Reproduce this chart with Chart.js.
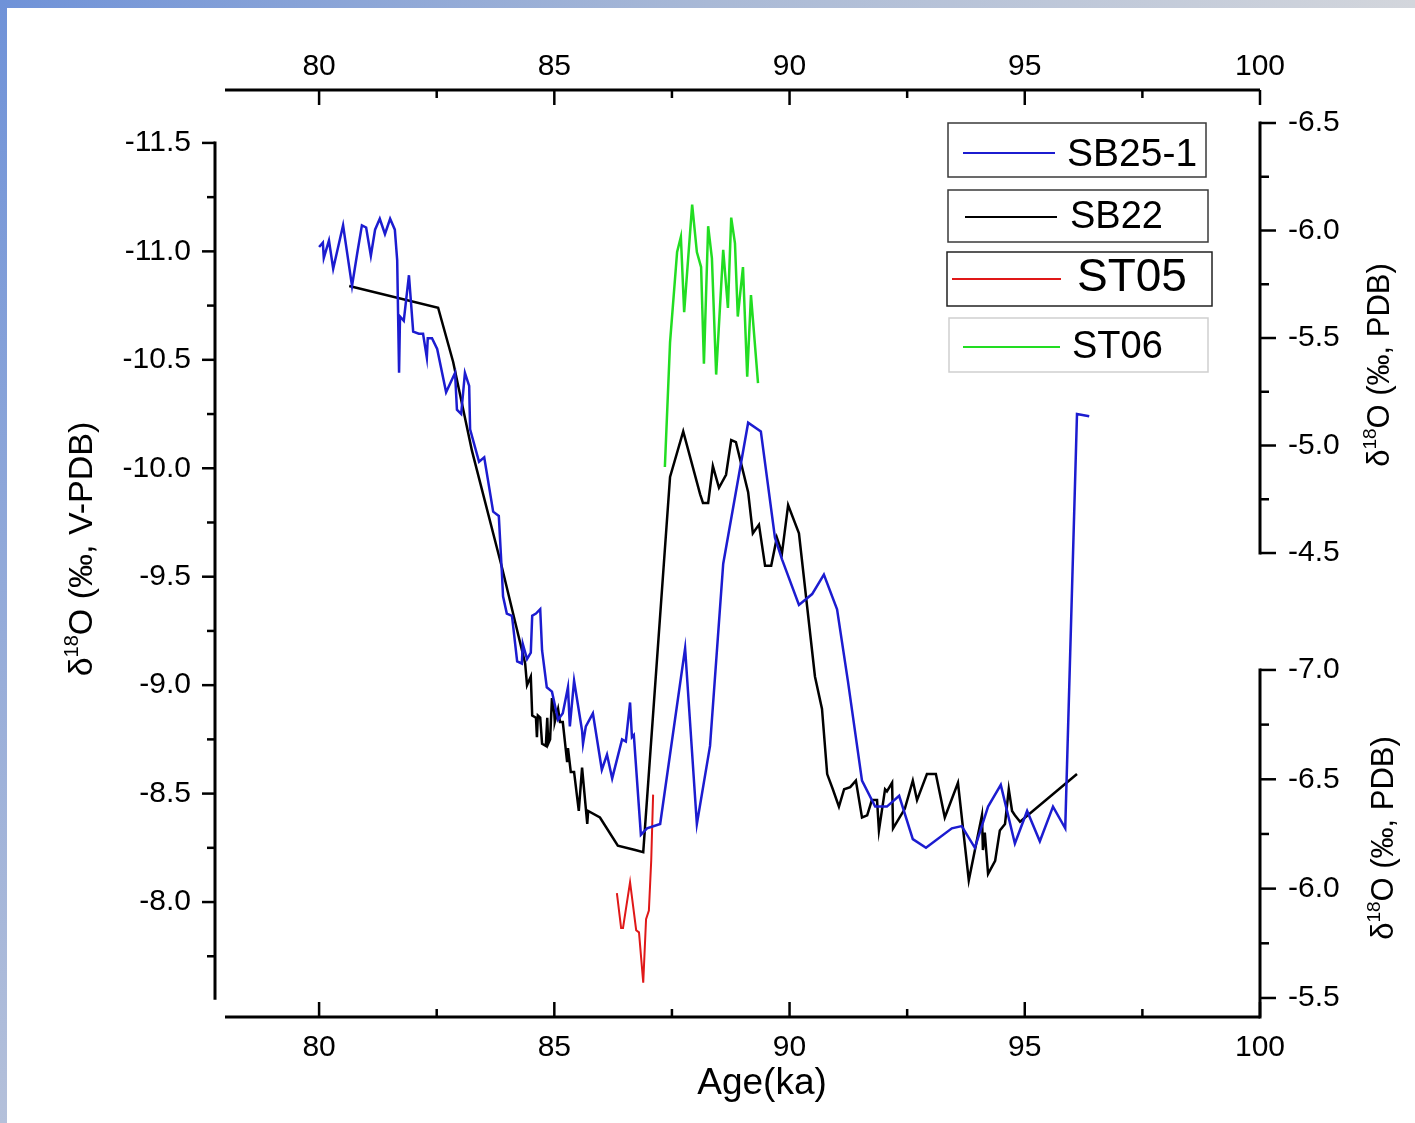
<!DOCTYPE html>
<html><head><meta charset="utf-8">
<script src="https://cdn.jsdelivr.net/npm/chart.js@4.4.1/dist/chart.umd.min.js"></script>
<style>html,body{margin:0;padding:0;background:#fff;} canvas{display:block;}</style>
</head><body>
<canvas id="c" width="1415" height="1123"></canvas>
<script>
// ---------------- DATA ----------------
const seriesNames = ['SB25-1', 'SB22', 'ST05', 'ST06'];

const sb25Age = [80.00,80.08,80.10,80.21,80.30,80.51,80.70,80.81,80.91,81.00,81.10,81.19,81.29,81.40,81.51,81.61,81.66,81.70,81.72,81.80,81.91,82.00,82.12,82.21,82.29,82.31,82.40,82.51,82.70,82.89,82.93,83.02,83.10,83.19,83.21,83.40,83.51,83.70,83.82,83.89,83.91,83.99,84.10,84.21,84.31,84.33,84.42,84.50,84.53,84.61,84.70,84.74,84.84,84.95,85.08,85.18,85.29,85.33,85.42,85.59,85.61,85.67,85.82,86.01,86.12,86.23,86.44,86.52,86.61,86.65,86.69,86.84,86.97,87.25,87.78,88.03,88.31,88.59,89.12,89.39,89.69,89.84,90.20,90.48,90.73,91.01,91.24,91.54,91.82,92.07,92.33,92.62,92.90,93.45,93.66,93.94,94.22,94.49,94.79,95.05,95.32,95.60,95.86,96.11,96.37];
const sb25Val = [-11.02,-11.04,-10.97,-11.05,-10.92,-11.12,-10.84,-10.99,-11.12,-11.11,-10.98,-11.10,-11.15,-11.08,-11.15,-11.10,-10.96,-10.44,-10.70,-10.68,-10.89,-10.63,-10.62,-10.62,-10.51,-10.60,-10.60,-10.55,-10.35,-10.44,-10.27,-10.25,-10.44,-10.38,-10.18,-10.03,-10.05,-9.80,-9.78,-9.50,-9.41,-9.33,-9.32,-9.11,-9.10,-9.19,-9.12,-9.15,-9.32,-9.33,-9.35,-9.16,-8.99,-8.97,-8.84,-8.87,-8.99,-8.81,-9.02,-8.79,-8.73,-8.81,-8.87,-8.61,-8.68,-8.57,-8.75,-8.74,-8.92,-8.76,-8.77,-8.31,-8.34,-8.36,-9.17,-8.36,-8.72,-9.56,-10.21,-10.17,-9.68,-9.58,-9.37,-9.42,-9.51,-9.35,-9.02,-8.56,-8.44,-8.44,-8.49,-8.29,-8.25,-8.34,-8.35,-8.25,-8.44,-8.54,-8.27,-8.42,-8.28,-8.44,-8.34,-10.25,-10.24];

const sb22Age = [80.64,82.53,82.85,83.25,83.89,84.38,84.42,84.50,84.53,84.61,84.63,84.65,84.70,84.74,84.82,84.85,84.87,84.91,84.95,85.00,85.01,85.08,85.12,85.18,85.27,85.29,85.35,85.42,85.52,85.59,85.70,85.72,85.97,86.35,86.72,86.89,87.46,87.74,88.10,88.16,88.27,88.37,88.50,88.65,88.76,88.86,89.12,89.22,89.35,89.48,89.61,89.73,89.84,89.97,90.20,90.54,90.69,90.80,90.92,91.05,91.16,91.29,91.41,91.54,91.65,91.75,91.86,91.90,92.03,92.07,92.18,92.20,92.45,92.62,92.71,92.92,93.11,93.30,93.58,93.81,94.09,94.11,94.15,94.22,94.37,94.47,94.58,94.66,94.73,94.79,94.90,96.11];
const sb22Val = [-10.84,-10.74,-10.49,-10.08,-9.54,-9.10,-9.00,-9.04,-8.86,-8.85,-8.76,-8.86,-8.85,-8.73,-8.72,-8.85,-8.73,-8.75,-8.94,-8.87,-8.83,-8.89,-8.83,-8.83,-8.65,-8.71,-8.60,-8.60,-8.42,-8.62,-8.36,-8.42,-8.39,-8.26,-8.24,-8.23,-9.96,-10.17,-9.88,-9.84,-9.84,-10.01,-9.91,-9.97,-10.13,-10.12,-9.89,-9.70,-9.74,-9.55,-9.55,-9.68,-9.61,-9.83,-9.70,-9.04,-8.89,-8.59,-8.52,-8.44,-8.52,-8.53,-8.56,-8.39,-8.40,-8.47,-8.47,-8.33,-8.52,-8.51,-8.55,-8.34,-8.43,-8.56,-8.47,-8.59,-8.59,-8.39,-8.55,-8.10,-8.40,-8.24,-8.32,-8.13,-8.19,-8.33,-8.36,-8.52,-8.42,-8.40,-8.37,-8.59];

const st05Age = [86.33,86.42,86.46,86.61,86.74,86.80,86.89,86.95,87.01,87.06,87.10];
const st05Val = [-5.98,-5.82,-5.82,-6.03,-5.81,-5.80,-5.57,-5.86,-5.90,-6.13,-6.43];

const st06Age = [87.35,87.46,87.61,87.69,87.76,87.93,88.03,88.12,88.18,88.27,88.35,88.44,88.59,88.69,88.76,88.84,88.90,89.01,89.10,89.18,89.33];
const st06Val = [-4.90,-5.48,-5.90,-5.97,-5.62,-6.12,-5.90,-5.83,-5.38,-6.02,-5.87,-5.33,-5.91,-5.64,-6.06,-5.94,-5.60,-5.83,-5.32,-5.70,-5.29];

// tick labels
const xTicks = [80, 85, 90, 95, 100];
const leftTicks = [-11.5, -11.0, -10.5, -10.0, -9.5, -9.0, -8.5, -8.0];
const upperRightTicks = [-6.5, -6.0, -5.5, -5.0, -4.5];
const lowerRightTicks = [-7.0, -6.5, -6.0, -5.5];
const xTitle = 'Age(ka)';
const leftTitle = ['δ', '18', 'O (‰, V-PDB)'];
const rightTitle = ['δ', '18', 'O (‰, PDB)'];

function zip(a, b) { return a.map((v, i) => ({ x: v, y: b[i] })); }

const FONT = '"Liberation Sans", Arial, sans-serif';

// ---------------- PLUGINS ----------------
const background = {
  id: 'background',
  beforeDraw(chart) {
    const ctx = chart.ctx, W = chart.width, H = chart.height;
    ctx.save();
    ctx.fillStyle = '#ffffff';
    ctx.fillRect(0, 0, W, H);
    let g = ctx.createLinearGradient(0, 0, W, 0);
    g.addColorStop(0, '#6f92d8');
    g.addColorStop(0.5, '#a9b9d6');
    g.addColorStop(1, '#d3d6dc');
    ctx.fillStyle = g;
    ctx.fillRect(0, 0, W, 8);
    g = ctx.createLinearGradient(0, 0, 0, H);
    g.addColorStop(0, '#6f92d8');
    g.addColorStop(1, '#b4c0da');
    ctx.fillStyle = g;
    ctx.fillRect(0, 0, 7, H);
    ctx.restore();
  }
};

function seg(ctx, x1, y1, x2, y2) { ctx.beginPath(); ctx.moveTo(x1, y1); ctx.lineTo(x2, y2); ctx.stroke(); }

function drawTitle(ctx, parts, cx, cy, size) {
  ctx.save();
  ctx.translate(cx, cy);
  ctx.rotate(-Math.PI / 2);
  const big = size + 'px ' + FONT, small = Math.round(size * 0.6) + 'px ' + FONT;
  ctx.font = big; const w0 = ctx.measureText(parts[0]).width;
  ctx.font = small; const w1 = ctx.measureText(parts[1]).width;
  ctx.font = big; const w2 = ctx.measureText(parts[2]).width;
  let x = -(w0 + w1 + w2) / 2;
  ctx.textBaseline = 'alphabetic'; ctx.textAlign = 'left'; ctx.fillStyle = '#000';
  const base = size * 0.36;
  ctx.font = big; ctx.fillText(parts[0], x, base); x += w0;
  ctx.font = small; ctx.fillText(parts[1], x, base - size * 0.42); x += w1;
  ctx.font = big; ctx.fillText(parts[2], x, base);
  ctx.restore();
}

const axes = {
  id: 'axes',
  afterDatasetsDraw(chart) {
    const ctx = chart.ctx, a = chart.chartArea;
    const xs = chart.scales.x, yL = chart.scales.yL, yU = chart.scales.yU, yD = chart.scales.yD;
    ctx.save();
    ctx.strokeStyle = '#000'; ctx.fillStyle = '#000'; ctx.lineCap = 'butt';
    ctx.font = '30px ' + FONT;

    // horizontal axes (top and bottom)
    [[a.top, 1, 67], [a.bottom, -1, 1048]].forEach(([y, dir, ly]) => {
      ctx.lineWidth = 3; seg(ctx, a.left, y, a.right, y);
      ctx.lineWidth = 2.5;
      xTicks.forEach((v, i) => {
        const px = xs.getPixelForValue(v);
        seg(ctx, px, y, px, y + dir * 15);
        if (i < xTicks.length - 1) {
          const pm = xs.getPixelForValue((v + xTicks[i + 1]) / 2);
          seg(ctx, pm, y, pm, y + dir * 8);
        }
        ctx.textAlign = 'center'; ctx.textBaseline = 'middle';
        ctx.fillText(String(v), px, ly);
      });
    });

    // left axis
    const lx = 215;
    const lTop = yL.getPixelForValue(leftTicks[0]);
    const lBot = yL.getPixelForValue(-7.55);
    ctx.lineWidth = 3; seg(ctx, lx, lTop - 1.5, lx, lBot);
    ctx.lineWidth = 2.5;
    leftTicks.forEach((v, i) => {
      const py = yL.getPixelForValue(v);
      seg(ctx, lx, py, lx - 13, py);
      const nv = i < leftTicks.length - 1 ? leftTicks[i + 1] : v + 0.5;
      const pm = yL.getPixelForValue((v + nv) / 2);
      if (pm < lBot) seg(ctx, lx, pm, lx - 8, pm);
      ctx.textAlign = 'right'; ctx.textBaseline = 'middle';
      ctx.fillText(v.toFixed(1), 191, py);
    });

    // right axes
    const rx = a.right;
    function rightAxis(scale, ticks, bottomPx) {
      const t = scale.getPixelForValue(ticks[0]);
      const b = bottomPx !== undefined ? bottomPx : scale.getPixelForValue(ticks[ticks.length - 1]);
      ctx.lineWidth = 3; seg(ctx, rx, t - 1.5, rx, b + 1.5);
      ctx.lineWidth = 2.5;
      ticks.forEach((v, i) => {
        const py = scale.getPixelForValue(v);
        seg(ctx, rx, py, rx + 16, py);
        if (i < ticks.length - 1) {
          const pm = scale.getPixelForValue((v + ticks[i + 1]) / 2);
          seg(ctx, rx, pm, rx + 9, pm);
        }
        ctx.textAlign = 'left'; ctx.textBaseline = 'middle';
        ctx.fillText(v.toFixed(1), 1288, py);
      });
    }
    rightAxis(yU, upperRightTicks);
    rightAxis(yD, lowerRightTicks, a.bottom);

    // titles
    ctx.font = '37px ' + FONT; ctx.textAlign = 'center'; ctx.textBaseline = 'middle';
    ctx.fillText(xTitle, 762, 1084);
    drawTitle(ctx, leftTitle, 80, 549, 34);
    drawTitle(ctx, rightTitle, 1378, 365, 31);
    drawTitle(ctx, rightTitle, 1382, 838, 31);
    ctx.restore();
  }
};

const boxLegend = {
  id: 'boxLegend',
  afterDraw(chart) {
    const ctx = chart.ctx;
    const boxes = [
      { x: 948, y: 123, w: 258, h: 54, l1: 963, l2: 1055, ly: 153, tx: 1067, ty: 154, size: 39, border: '#3a3a3a' },
      { x: 948, y: 190, w: 260, h: 52, l1: 965, l2: 1057, ly: 217, tx: 1070, ty: 217, size: 38, border: '#3a3a3a' },
      { x: 947, y: 252, w: 265, h: 54, l1: 952, l2: 1061, ly: 279, tx: 1077, ty: 277, size: 46, border: '#222222' },
      { x: 949, y: 318, w: 259, h: 54, l1: 963, l2: 1060, ly: 347, tx: 1072, ty: 347, size: 38, border: '#cfcfcf' }
    ];
    ctx.save();
    chart.data.datasets.forEach((ds, i) => {
      const b = boxes[i];
      ctx.fillStyle = '#fff'; ctx.fillRect(b.x, b.y, b.w, b.h);
      ctx.strokeStyle = b.border; ctx.lineWidth = 1.5;
      ctx.strokeRect(b.x, b.y, b.w, b.h);
      ctx.strokeStyle = ds.borderColor; ctx.lineWidth = 2;
      seg(ctx, b.l1, b.ly, b.l2, b.ly);
      ctx.fillStyle = '#000'; ctx.font = b.size + 'px ' + FONT;
      ctx.textAlign = 'left'; ctx.textBaseline = 'middle';
      ctx.fillText(ds.label, b.tx, b.ty + 1);
    });
    ctx.restore();
  }
};

// ---------------- CHART ----------------
new Chart(document.getElementById('c'), {
  type: 'line',
  data: {
    datasets: [
      { label: seriesNames[0], data: zip(sb25Age, sb25Val), yAxisID: 'yL', borderColor: '#1c1cd0', borderWidth: 2.5 },
      { label: seriesNames[1], data: zip(sb22Age, sb22Val), yAxisID: 'yL', borderColor: '#000000', borderWidth: 2.5 },
      { label: seriesNames[2], data: zip(st05Age, st05Val), yAxisID: 'yD', borderColor: '#e01818', borderWidth: 2 },
      { label: seriesNames[3], data: zip(st06Age, st06Val), yAxisID: 'yU', borderColor: '#22dd22', borderWidth: 2.5 }
    ]
  },
  options: {
    responsive: false,
    devicePixelRatio: 1,
    animation: false,
    layout: { padding: { left: 225, right: 155, top: 90, bottom: 106 } },
    elements: { point: { radius: 0 }, line: { tension: 0, borderJoinStyle: 'miter' } },
    plugins: { legend: { display: false }, tooltip: { enabled: false } },
    scales: {
      x: { type: 'linear', min: 78, max: 100, display: false },
      yL: { type: 'linear', min: -11.744, max: -7.470, reverse: true, display: false },
      yU: { type: 'linear', min: -6.6535, max: -2.342, reverse: true, display: false },
      yD: { type: 'linear', min: -9.652, max: -5.413, reverse: true, display: false }
    }
  },
  plugins: [background, axes, boxLegend]
});
</script>
</body></html>
